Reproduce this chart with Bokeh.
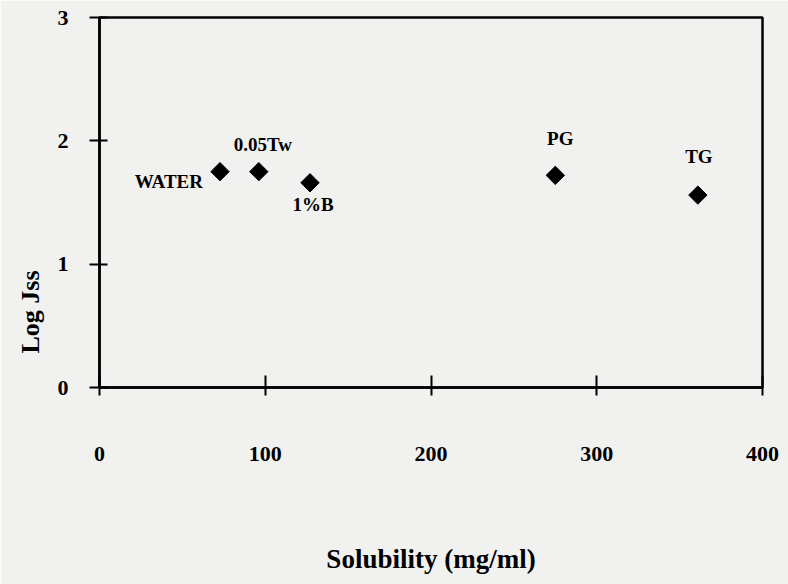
import math
from bokeh.plotting import figure
from bokeh.models import ColumnDataSource, FixedTicker, LabelSet, Range1d, Title
from bokeh.embed import file_html
from bokeh.resources import INLINE

# Data
labels = ["WATER", "0.05Tw", "1%B", "PG", "TG"]
solubility = [72.7, 96.1, 127.0, 275.0, 361.0]
log_jss = [1.75, 1.75, 1.66, 1.72, 1.56]
x_ticks = [0, 100, 200, 300, 400]
y_ticks = [0, 1, 2, 3]

# label placement (pixel offsets relative to the points)
lab_dx = [-17, 4, 3, 5, 1]
lab_dy = [-10, 27, -22, 37, 39]
lab_align = ["right", "center", "center", "center", "center"]

BG = "#f1f1ef"
FONT = "Liberation Serif"

p = figure(width=788, height=584, output_backend="svg", toolbar_location=None,
           x_range=Range1d(0, 400), y_range=Range1d(0, 3),
           min_border_left=99, min_border_right=26, min_border_top=17, min_border_bottom=197)
p.background_fill_color = BG
p.border_fill_color = BG
p.outline_line_color = "black"
p.outline_line_width = 2.5
p.grid.visible = False

for ax in (p.xaxis[0], p.yaxis[0]):
    ax.axis_line_width = 2.5
    ax.major_tick_line_width = 2
    ax.minor_tick_line_color = None
    ax.major_label_text_font = FONT
    ax.major_label_text_font_style = "bold"
    ax.major_label_text_font_size = "22px"
    ax.major_label_text_color = "black"
    ax.axis_label_text_font = FONT
    ax.axis_label_text_font_style = "bold"
    ax.axis_label_text_font_size = "27px"
    ax.axis_label_text_color = "black"

p.xaxis.ticker = FixedTicker(ticks=x_ticks)
p.yaxis.ticker = FixedTicker(ticks=y_ticks)
p.xaxis.major_tick_in = 12
p.xaxis.major_tick_out = 8
p.yaxis.major_tick_in = 8
p.yaxis.major_tick_out = 10
p.xaxis.major_label_standoff = 51
p.yaxis.major_label_standoff = 21
p.xaxis.axis_label = "Solubility (mg/ml)"
p.xaxis.axis_label_standoff = 80

src = ColumnDataSource(dict(x=solubility, y=log_jss, name=labels,
                            dx=lab_dx, dy=lab_dy, align=lab_align))
p.scatter("x", "y", source=src, marker="square", size=13, angle=math.pi / 4,
          fill_color="black", line_color="black")

p.add_layout(LabelSet(x="x", y="y", text="name", source=src,
                      x_offset="dx", y_offset="dy", text_align="align",
                      text_baseline="middle", text_font=FONT, text_font_style="bold",
                      text_font_size="19px", text_color="black"))

p.add_layout(Title(text="Log Jss", align="left", offset=34, text_font=FONT,
                   text_font_style="bold", text_font_size="26px", text_color="black",
                   standoff=20), "left")

open("out.html", "w").write(file_html(p, INLINE))
